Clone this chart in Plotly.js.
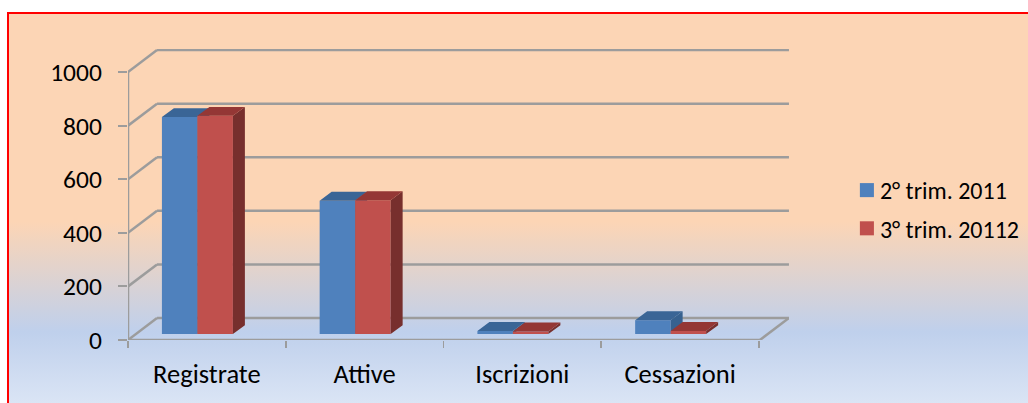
<!DOCTYPE html>
<html>
<head>
<meta charset="utf-8">
<script src="https://cdn.plot.ly/plotly-3.0.1.min.js"></script>
<style>
html,body{margin:0;padding:0;background:#fff;width:1028px;height:403px;overflow:hidden}
#frame{position:absolute;left:7px;top:12px;width:1021px;height:391px;box-sizing:border-box;
 border-left:2px solid #f00;border-top:2px solid #f00;
 background:linear-gradient(to bottom,#FCD5B5 0px,#FCD5B5 208px,#BFD0EC 318px,#DBE5F5 391px)}
#chart{position:absolute;left:0;top:0;width:1028px;height:403px}
.legend .legendpoints path{transform:translate(27px,0) scale(1.17) !important}
</style>
</head>
<body>
<div id="frame"></div>
<div id="chart"></div>
<script>
const categories = ["Registrate","Attive","Iscrizioni","Cessazioni"];
const seriesNames = ["2° trim. 2011","3° trim. 20112"];
const values2011 = [810,498,12,52];
const values20112 = [815,500,10,12];
const yTicks = [0,200,400,600,800,1000];

// Pseudo-3D depth, in axis units
const wallDX = 0.184, wallDY = 82;      // depth of the back wall
const barBase = 22, barShift = -0.285;  // bar foot offset / first bar offset from slot centre
const barW = 0.225;
const barDX = 0.076, barDY = 33;        // bar depth
const xMin = -0.5, xMax = 3.69, yMax = 1086;
const gridColor = "#9C9C9C";
const xPos = categories.map((c,i)=>i);

function faces(vals, off){
  const top={x:[],y:[]}, side={x:[],y:[]};
  vals.forEach((v,i)=>{
    const l=i+off, r=l+barW, t=barBase+v;
    top.x.push(l,r,r+barDX,l+barDX,l,null);
    top.y.push(t,t,t+barDY,t+barDY,t,null);
    side.x.push(r,r+barDX,r+barDX,r,r,null);
    side.y.push(barBase,barBase+barDY,t+barDY,t,barBase,null);
  });
  return {top,side};
}
function poly(d,color,xa,ya){
  return {type:"scatter",mode:"lines",x:d.x,y:d.y,xaxis:xa,yaxis:ya,fill:"toself",fillcolor:color,
    line:{width:0,color:color},showlegend:false,hoverinfo:"skip"};
}
function bars(vals,name,off,color,xa,ya){
  return {type:"bar",name:name,legendgroup:name,x:xPos,y:vals,base:vals.map(()=>barBase),
    offset:off,width:barW,marker:{color:color,line:{width:0}},xaxis:xa,yaxis:ya};
}
const fb=faces(values2011,barShift), fr=faces(values20112,barShift+barW);
const traces=[
  bars(values2011,seriesNames[0],barShift,"#4F81BD","x","y"),
  poly(fb.side,"#37618F","x","y"),
  poly(fb.top,"#3A6596","x","y"),
  bars(values20112,seriesNames[1],barShift+barW,"#C0504D","x2","y2"),
  poly(fr.side,"#772F2D","x2","y2"),
  poly(fr.top,"#943735","x2","y2")
];

function seg(x0,y0,x1,y1){
  return {type:"line",layer:"below",xref:"x",yref:"y",x0,y0,x1,y1,line:{color:gridColor,width:2.5}};
}
const shapes=[];
yTicks.forEach(t=>{
  shapes.push(seg(xMin,t,xMin+wallDX,t+wallDY));
  shapes.push(seg(xMin+wallDX,t+wallDY,xMax,t+wallDY));
});
shapes.push(seg(xMin,0,xMin,yTicks[yTicks.length-1]));
shapes.push(seg(xMin,0,xMax-wallDX,0));
shapes.push(seg(xMax-wallDX,0,xMax,wallDY));

const plotDomain=[0,0.7344];
const font={family:"Carlito, Lato, sans-serif",size:25.5,color:"#000"};
const xFont={family:font.family,size:26.5,color:"#000"};
const layout={
  width:1028,height:403,autosize:false,
  margin:{l:128,r:0,t:49,b:63,pad:0},
  paper_bgcolor:"rgba(0,0,0,0)",plot_bgcolor:"rgba(0,0,0,0)",
  font:font,barmode:"overlay",shapes:shapes,
  xaxis:{domain:plotDomain,range:[xMin,xMax],tickmode:"array",tickvals:xPos,ticktext:categories,ticks:"",showgrid:false,
    zeroline:false,showline:false,ticklabelstandoff:15,tickfont:xFont,
    minor:{tickmode:"array",tickvals:[-0.5,0.5,1.5,2.5,3.5],ticks:"outside",ticklen:7,tickwidth:1.5,tickcolor:gridColor,showgrid:false}},
  yaxis:{range:[0,yMax],tickmode:"array",tickvals:yTicks,ticks:"outside",ticklen:9,tickwidth:2,tickcolor:gridColor,
    showgrid:false,zeroline:false,showline:false,tickfont:font,ticklabelstandoff:11},
  xaxis2:{domain:plotDomain,range:[xMin,xMax],overlaying:"x",anchor:"y2",visible:false,showgrid:false,zeroline:false},
  yaxis2:{range:[0,yMax],overlaying:"y",anchor:"x2",visible:false,showgrid:false,zeroline:false},
  legend:{x:0.791,xanchor:"left",y:0.591,yanchor:"top",bgcolor:"rgba(0,0,0,0)",
    font:{family:font.family,size:24,color:"#000"},tracegroupgap:4,traceorder:"grouped",itemclick:false,itemdoubleclick:false},
  showlegend:true
};
Plotly.newPlot("chart",traces,layout,{displayModeBar:false,staticPlot:true});
</script>
</body>
</html>
